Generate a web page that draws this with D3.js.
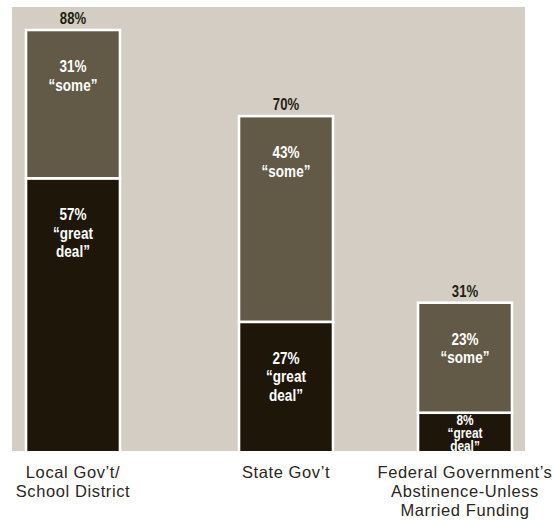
<!DOCTYPE html>
<html>
<head>
<meta charset="utf-8">
<script src="https://cdn.jsdelivr.net/npm/d3@7"></script>
<style>
  html, body { margin: 0; padding: 0; background: #ffffff; }
  svg { display: block; }
  .inlbl { font-family: "Liberation Sans", Arial, sans-serif; font-weight: bold; fill: #ffffff; }
  .tot { font-family: "Liberation Sans", Arial, sans-serif; font-weight: bold; font-size: 16px; fill: #231c10; }
  .cat { font-family: "Liberation Sans", Arial, sans-serif; font-size: 16.5px; fill: #2a2622; letter-spacing: 0.6px; }
</style>
</head>
<body>
<svg id="chart" width="559" height="520"></svg>
<script>
// ---- data ----
const categories = ["Local Gov't/School District", "State Gov't", "Federal Government's Abstinence-Unless Married Funding"];
const categoryLines = [
  ["Local Gov\u2019t/", "School District"],
  ["State Gov\u2019t"],
  ["Federal Government\u2019s", "Abstinence-Unless", "Married Funding"]
];
const greatDeal = [57, 27, 8];
const some = [31, 43, 23];
const totals = [88, 70, 31];
const seriesKeys = ["great deal", "some"];

// ---- layout ----
const W = 559, H = 520;
const panel = { x0: 12, x1: 525, y0: 7, y1: 451 };
const barW = 94;
const squeeze = 0.82;
const colors = { "great deal": "#1e1609", "some": "#625947" };

const svg = d3.select("#chart");

const rows = categories.map((c, i) => ({ cat: c, "great deal": greatDeal[i], "some": some[i], total: totals[i], lines: categoryLines[i] }));

const x = d3.scaleOrdinal().domain(categories).range([73, 286, 465]);
const y = d3.scaleLinear().domain([0, 88]).range([panel.y1, 30]);

svg.append("rect")
  .attr("x", panel.x0).attr("y", panel.y0)
  .attr("width", panel.x1 - panel.x0).attr("height", panel.y1 - panel.y0)
  .attr("fill", "#d3cdc3");

const stacked = d3.stack().keys(seriesKeys)(rows);

const g = svg.append("g");
stacked.forEach(layer => {
  layer.forEach(d => {
    const cx = x(d.data.cat);
    const top = y(d[1]);
    const bottom = d[0] === 0 ? y(0) + 3 : y(d[0]);
    g.append("rect")
      .attr("x", cx - barW / 2).attr("y", top)
      .attr("width", barW).attr("height", bottom - top)
      .attr("fill", colors[layer.key])
      .attr("stroke", "#ffffff").attr("stroke-width", 2.6);
  });
});

// cover any stroke below the panel baseline
svg.append("rect").attr("x", 0).attr("y", panel.y1).attr("width", W).attr("height", 6).attr("fill", "#ffffff");

// segment labels
stacked.forEach(layer => {
  layer.forEach(d => {
    const cx = x(d.data.cat);
    const top = y(d[1]);
    const val = d[1] - d[0];
    const segH = y(d[0]) - y(d[1]);
    const lines = layer.key === "some"
      ? [val + "%", "\u201Csome\u201D"]
      : [val + "%", "\u201Cgreat", "deal\u201D"];
    const small = segH < 80;
    const first = small ? top + 12.5 : top + 42;
    const lh = small ? 12.8 : 18.5;
    const fs = small ? 14.5 : 16.5;
    lines.forEach((t, k) => {
      g.append("text").attr("class", "inlbl")
        .attr("transform", `translate(${cx},${first + k * lh}) scale(${squeeze},1)`)
        .attr("text-anchor", "middle")
        .style("font-size", fs + "px")
        .text(t);
    });
  });
});

// totals
rows.forEach(r => {
  svg.append("text").attr("class", "tot")
    .attr("transform", `translate(${x(r.cat)},${y(r.total) - 6}) scale(${squeeze},1)`)
    .attr("text-anchor", "middle")
    .text(r.total + "%");
});

// category labels
rows.forEach(r => {
  r.lines.forEach((t, k) => {
    svg.append("text").attr("class", "cat")
      .attr("x", x(r.cat)).attr("y", 478 + k * 19)
      .attr("text-anchor", "middle")
      .text(t);
  });
});
</script>
</body>
</html>
